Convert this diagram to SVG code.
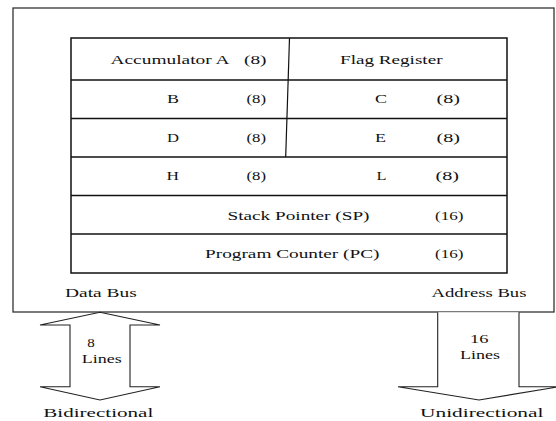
<svg xmlns="http://www.w3.org/2000/svg" width="556" height="421" viewBox="0 0 556 421">
  <style>
    text { font-family: "Liberation Serif", serif; font-size: 13px; fill: #111; }
    .frame { fill: #fff; stroke: #333; stroke-width: 1.3; }
    .reg { fill: none; stroke: #111; stroke-width: 1.5; }
    .div { fill: none; stroke: #111; stroke-width: 1.2; }
    .bus { fill: #fff; stroke: #222; stroke-width: 1.1; stroke-linejoin: miter; }
  </style>
  <rect width="556" height="421" fill="#fff"/>

  <!-- CPU outline -->
  <g id="cpu">
    <rect class="frame" x="13" y="8" width="541" height="304"/>
  </g>

  <!-- register file -->
  <g id="registers">
    <rect class="reg" x="71" y="38" width="436" height="235"/>
    <line class="reg" x1="71" y1="80" x2="507" y2="80"/>
    <line class="reg" x1="71" y1="118.5" x2="507" y2="118.5"/>
    <line class="reg" x1="71" y1="157" x2="507" y2="157"/>
    <line class="reg" x1="71" y1="195.5" x2="507" y2="195.5"/>
    <line class="reg" x1="71" y1="234" x2="507" y2="234"/>
    <line class="div" x1="289.5" y1="38" x2="285.7" y2="157"/>
  </g>

  <g id="reg-a">
    <text x="110.5" y="64" textLength="119" lengthAdjust="spacingAndGlyphs">Accumulator A</text>
    <text x="244" y="64" textLength="22.5" lengthAdjust="spacingAndGlyphs">(8)</text>
  </g>
  <g id="reg-flag">
    <text x="340" y="64" textLength="102.5" lengthAdjust="spacingAndGlyphs">Flag Register</text>
  </g>
  <g id="reg-b">
    <text x="167" y="103.3" textLength="12" lengthAdjust="spacingAndGlyphs">B</text>
    <text x="246.5" y="103.3" textLength="19.5" lengthAdjust="spacingAndGlyphs">(8)</text>
  </g>
  <g id="reg-c">
    <text x="375" y="103.3" textLength="12" lengthAdjust="spacingAndGlyphs">C</text>
    <text x="436.5" y="103.3" textLength="23.5" lengthAdjust="spacingAndGlyphs">(8)</text>
  </g>
  <g id="reg-d">
    <text x="167" y="141.7" textLength="12" lengthAdjust="spacingAndGlyphs">D</text>
    <text x="246.5" y="141.7" textLength="19.5" lengthAdjust="spacingAndGlyphs">(8)</text>
  </g>
  <g id="reg-e">
    <text x="375" y="141.7" textLength="11" lengthAdjust="spacingAndGlyphs">E</text>
    <text x="436.5" y="141.7" textLength="23.5" lengthAdjust="spacingAndGlyphs">(8)</text>
  </g>
  <g id="reg-h">
    <text x="166.5" y="180" textLength="12.5" lengthAdjust="spacingAndGlyphs">H</text>
    <text x="246.5" y="180" textLength="19.5" lengthAdjust="spacingAndGlyphs">(8)</text>
  </g>
  <g id="reg-l">
    <text x="376.5" y="180" textLength="10" lengthAdjust="spacingAndGlyphs">L</text>
    <text x="435.5" y="180" textLength="23.5" lengthAdjust="spacingAndGlyphs">(8)</text>
  </g>
  <g id="reg-sp">
    <text x="227.5" y="220" textLength="142" lengthAdjust="spacingAndGlyphs">Stack Pointer (SP)</text>
    <text x="435" y="220" textLength="28.5" lengthAdjust="spacingAndGlyphs">(16)</text>
  </g>
  <g id="reg-pc">
    <text x="205" y="258.3" textLength="174.5" lengthAdjust="spacingAndGlyphs">Program Counter (PC)</text>
    <text x="435" y="258.3" textLength="28.5" lengthAdjust="spacingAndGlyphs">(16)</text>
  </g>

  <!-- bus labels inside the CPU outline -->
  <g id="data-bus-label">
    <text x="65" y="296.7" textLength="71.7" lengthAdjust="spacingAndGlyphs">Data Bus</text>
  </g>
  <g id="address-bus-label">
    <text x="431.5" y="296.7" textLength="95" lengthAdjust="spacingAndGlyphs">Address Bus</text>
  </g>

  <!-- bus arrows -->
  <g id="connectors">
    <path id="data-bus" class="bus" d="M100,312.3 L160,325 H130 V386.7 H160 L100,400 L40,386.7 H70 V325 H40 Z"/>
    <path id="address-bus" class="bus" d="M437.7,312.3 V386.7 H398 L479,400 L559,386.7 H519 V312.3"/>
  </g>

  <g id="data-bus-arrow-text">
    <text x="87.3" y="346.7" textLength="7.5" lengthAdjust="spacingAndGlyphs">8</text>
    <text x="81.7" y="363.3" textLength="40" lengthAdjust="spacingAndGlyphs">Lines</text>
    <text x="43.3" y="417" textLength="110" lengthAdjust="spacingAndGlyphs">Bidirectional</text>
  </g>
  <g id="address-bus-arrow-text">
    <text x="470" y="342.7" textLength="18.5" lengthAdjust="spacingAndGlyphs">16</text>
    <text x="460" y="359.3" textLength="40" lengthAdjust="spacingAndGlyphs">Lines</text>
    <text x="420" y="417" textLength="123.5" lengthAdjust="spacingAndGlyphs">Unidirectional</text>
  </g>
</svg>
